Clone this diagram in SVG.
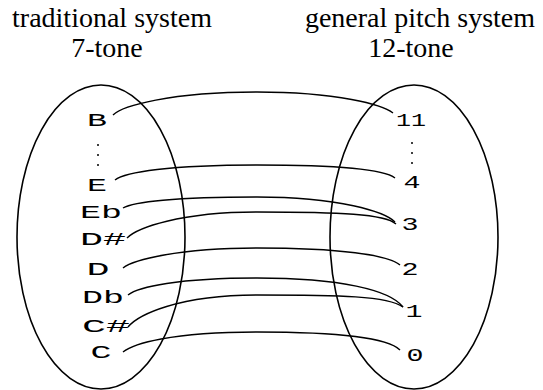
<svg xmlns="http://www.w3.org/2000/svg" width="543" height="390" viewBox="0 0 543 390">
<style>
.title{font-family:"Liberation Serif","Times New Roman",serif;font-size:28px;fill:#000;text-anchor:middle}
.lbl{font-family:"Liberation Mono","Courier New",monospace;font-size:19px;fill:#000;text-anchor:middle}
.ell{fill:none;stroke:#000;stroke-width:1.6}
.con{fill:none;stroke:#000;stroke-width:1.4}
.dot{fill:#000}
</style>
<rect width="543" height="390" fill="#fff"/>
<g id="title-left">
<text class="title" x="112" y="27">traditional system</text>
<text class="title" x="107" y="57">7-tone</text>
</g>
<g id="title-right">
<text class="title" x="420" y="27">general pitch system</text>
<text class="title" x="411" y="57">12-tone</text>
</g>
<g id="set-7tone">
<ellipse class="ell" cx="101" cy="237" rx="84" ry="152"/>
<text class="lbl" x="97" y="126" textLength="20" lengthAdjust="spacingAndGlyphs">B</text>
<circle class="dot" cx="98" cy="145" r="1"/><circle class="dot" cx="98" cy="155" r="1"/><circle class="dot" cx="98" cy="165" r="1"/>
<text class="lbl" x="97" y="191" textLength="20" lengthAdjust="spacingAndGlyphs">E</text>
<text class="lbl" x="101" y="218" textLength="42" lengthAdjust="spacingAndGlyphs">Eb</text>
<text class="lbl" x="103" y="245" textLength="46" lengthAdjust="spacingAndGlyphs">D#</text>
<text class="lbl" x="98" y="275" textLength="23" lengthAdjust="spacingAndGlyphs">D</text>
<text class="lbl" x="103" y="303" textLength="42" lengthAdjust="spacingAndGlyphs">Db</text>
<text class="lbl" x="106" y="332" textLength="48" lengthAdjust="spacingAndGlyphs">C#</text>
<text class="lbl" x="101" y="358" textLength="21" lengthAdjust="spacingAndGlyphs">C</text>
</g>
<g id="set-12tone">
<ellipse class="ell" cx="414" cy="237" rx="84" ry="152"/>
<text class="lbl" x="411" y="126" textLength="30" lengthAdjust="spacingAndGlyphs">11</text>
<circle class="dot" cx="412" cy="143" r="1"/><circle class="dot" cx="412" cy="153" r="1"/><circle class="dot" cx="412" cy="163" r="1"/>
<text class="lbl" x="412" y="188" textLength="17" lengthAdjust="spacingAndGlyphs">4</text>
<text class="lbl" x="410" y="230" textLength="17" lengthAdjust="spacingAndGlyphs">3</text>
<text class="lbl" x="410" y="275" textLength="17" lengthAdjust="spacingAndGlyphs">2</text>
<text class="lbl" x="414" y="317" textLength="17" lengthAdjust="spacingAndGlyphs">1</text>
<text class="lbl" x="415" y="361" textLength="17" lengthAdjust="spacingAndGlyphs">0</text>
</g>
<g id="connectors">
<path class="con" d="M113,115 C122,106 170,92 257,92 C338,92 383,105 393,113"/>
<path class="con" d="M115,180 C125,172 170,165 257,165 C340,165 385,170 395,178"/>
<path class="con" d="M123,208 C133,202 175,197 257,197 C340,197 385,212 395,222"/>
<path class="con" d="M127,238 C137,228 180,212 257,212 C340,212 385,214 396,224"/>
<path class="con" d="M123,268 C133,260 178,248 257,248 C340,248 388,255 400,265"/>
<path class="con" d="M128,295 C138,287 178,278 257,278 C340,278 390,290 403,307"/>
<path class="con" d="M128,327 C138,315 178,295 257,295 C340,295 388,296 403,307"/>
<path class="con" d="M123,352 C133,344 170,332 257,332 C340,332 388,338 400,350"/>
</g>
</svg>
